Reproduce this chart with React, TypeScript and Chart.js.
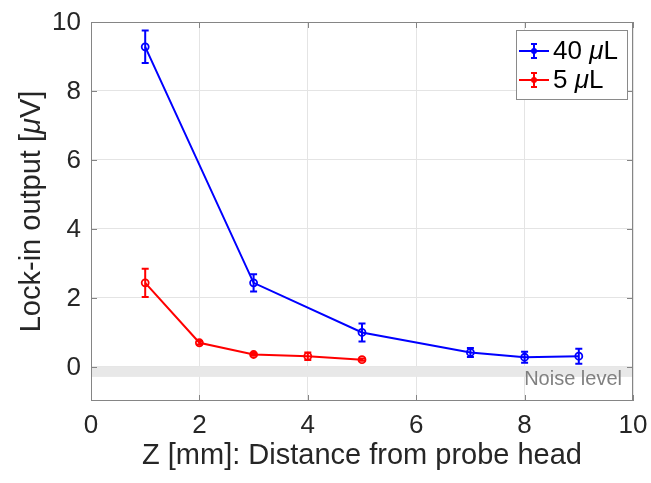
import React, { useEffect, useRef } from "react";
import { Chart, registerables } from "chart.js";
Chart.register(...registerables);

// ---- data ----
const zPositions40 = [1, 3, 5, 7, 8, 9];
const values40 = [9.28, 2.43, 0.99, 0.41, 0.27, 0.3];
const errors40 = [0.47, 0.25, 0.26, 0.13, 0.16, 0.22];
const zPositions5 = [1, 2, 3, 4, 5];
const values5 = [2.43, 0.69, 0.35, 0.3, 0.2];
const errors5 = [0.41, 0.05, 0.04, 0.11, 0.03];
const xTickValues = [0, 2, 4, 6, 8, 10];
const yTickValues = [0, 2, 4, 6, 8, 10];
const noiseBand = [-0.3, 0];
const legendNumbers = ["40 ", "5 "];
const legendUnit = "L";
const xTitle = "Z [mm]: Distance from probe head";
const yTitleParts = ["Lock-in output [", "μ", "V]"];
const noiseLabel = "Noise level";

const FONT = '"Liberation Sans", Arial, Helvetica, sans-serif';
const TEXT = "#262626";
const AXIS = "#858585";
const BLUE = "#0000ff";
const RED = "#ff0000";

type Part = [string, boolean];
function partsWidth(ctx: CanvasRenderingContext2D, parts: Part[], size: number) {
  let w = 0;
  for (const [t, it] of parts) {
    ctx.font = `${it ? "italic " : ""}${size}px ${FONT}`;
    w += ctx.measureText(t).width;
  }
  return w;
}
function drawParts(ctx: CanvasRenderingContext2D, parts: Part[], x: number, y: number, size: number) {
  let cx = x;
  ctx.textAlign = "left";
  ctx.textBaseline = "middle";
  for (const [t, it] of parts) {
    ctx.font = `${it ? "italic " : ""}${size}px ${FONT}`;
    ctx.fillText(t, cx, y);
    cx += ctx.measureText(t).width;
  }
}

function drawErrorGlyph(ctx: CanvasRenderingContext2D, cx: number, top: number, bottom: number, color: string, cap: number) {
  ctx.strokeStyle = color;
  ctx.lineWidth = 2;
  ctx.beginPath();
  ctx.moveTo(cx, top);
  ctx.lineTo(cx, bottom);
  ctx.moveTo(cx - cap, top);
  ctx.lineTo(cx + cap, top);
  ctx.moveTo(cx - cap, bottom);
  ctx.lineTo(cx + cap, bottom);
  ctx.stroke();
}

const matlabPlugin = {
  id: "matlabPlugin",
  beforeDatasetsDraw(chart: any) {
    const { ctx, chartArea: a, scales } = chart;
    const y = scales.y;
    const yt = y.getPixelForValue(noiseBand[1]);
    const yb = y.getPixelForValue(noiseBand[0]);
    ctx.save();
    ctx.fillStyle = "#e8e8e8";
    ctx.fillRect(a.left, yt, a.right - a.left, yb - yt);
    ctx.fillStyle = "#808080";
    ctx.font = `20px ${FONT}`;
    ctx.textAlign = "right";
    ctx.textBaseline = "middle";
    ctx.fillText(noiseLabel, a.right - 11, yb + 3);
    ctx.restore();
  },
  afterDatasetsDraw(chart: any) {
    const { ctx, scales } = chart;
    const x = scales.x;
    const y = scales.y;
    ctx.save();
    chart.data.datasets.forEach((ds: any) => {
      ds.data.forEach((p: any, j: number) => {
        const e = ds.errors[j];
        const px = x.getPixelForValue(p.x);
        drawErrorGlyph(ctx, px, y.getPixelForValue(p.y + e), y.getPixelForValue(p.y - e), ds.borderColor, 3.5);
      });
    });
    ctx.restore();
  },
  afterDraw(chart: any) {
    const { ctx, chartArea: a, scales } = chart;
    const x = scales.x;
    const y = scales.y;
    ctx.save();
    // box
    ctx.strokeStyle = AXIS;
    ctx.lineWidth = 1;
    ctx.strokeRect(Math.round(a.left) + 0.5, Math.round(a.top) + 0.5, Math.round(a.right - a.left) - 1, Math.round(a.bottom - a.top) - 1);
    // inward ticks
    ctx.beginPath();
    const tl = 6;
    for (const v of xTickValues) {
      const px = Math.round(x.getPixelForValue(v)) + 0.5;
      ctx.moveTo(px, a.bottom);
      ctx.lineTo(px, a.bottom - tl);
      ctx.moveTo(px, a.top);
      ctx.lineTo(px, a.top + tl);
    }
    for (const v of yTickValues) {
      const py = Math.round(y.getPixelForValue(v)) + 0.5;
      ctx.moveTo(a.left, py);
      ctx.lineTo(a.left + tl, py);
      ctx.moveTo(a.right, py);
      ctx.lineTo(a.right - tl, py);
    }
    ctx.stroke();

    // tick labels
    ctx.fillStyle = TEXT;
    ctx.font = `26px ${FONT}`;
    ctx.textAlign = "center";
    ctx.textBaseline = "middle";
    for (const v of xTickValues) {
      ctx.fillText(String(v), x.getPixelForValue(v), a.bottom + 25);
    }
    ctx.textAlign = "right";
    for (const v of yTickValues) {
      ctx.fillText(String(v), a.left - 10, y.getPixelForValue(v) + 1);
    }

    // legend
    const lx = 516, ly = 30, lw = 111, lh = 69;
    ctx.fillStyle = "#ffffff";
    ctx.fillRect(lx, ly, lw, lh);
    ctx.strokeStyle = "#8a8a8a";
    ctx.lineWidth = 1;
    ctx.strokeRect(lx + 0.5, ly + 0.5, lw, lh);
    chart.data.datasets.forEach((ds: any, i: number) => {
      const ry = 51 + i * 29;
      const col = ds.borderColor;
      ctx.strokeStyle = col;
      ctx.lineWidth = 2;
      ctx.beginPath();
      ctx.moveTo(519, ry);
      ctx.lineTo(549, ry);
      ctx.stroke();
      drawErrorGlyph(ctx, 534, ry - 7, ry + 7, col, 3);
      ctx.fillStyle = col;
      ctx.beginPath();
      ctx.arc(534, ry, 3, 0, Math.PI * 2);
      ctx.fill();
      ctx.fillStyle = "#000000";
      drawParts(ctx, [[legendNumbers[i], false], ["μ", true], [legendUnit, false]], 553, ry + 1, 26);
    });

    // titles
    ctx.fillStyle = TEXT;
    ctx.font = `29px ${FONT}`;
    ctx.textAlign = "center";
    ctx.textBaseline = "middle";
    ctx.fillText(xTitle, (a.left + a.right) / 2, 456);

    const yParts: Part[] = [[yTitleParts[0], false], [yTitleParts[1], true], [yTitleParts[2], false]];
    ctx.save();
    ctx.translate(32, (a.top + a.bottom) / 2);
    ctx.rotate(-Math.PI / 2);
    const w = partsWidth(ctx, yParts, 29);
    drawParts(ctx, yParts, -w / 2, 0, 29);
    ctx.restore();

    ctx.restore();
  },
};

export default function App() {
  const ref = useRef<HTMLCanvasElement | null>(null);
  useEffect(() => {
    document.body.style.margin = "0";
    const canvas = ref.current!;
    const mk = (xs: number[], ys: number[]) => xs.map((v, i) => ({ x: v, y: ys[i] }));
    const chart = new Chart(canvas, {
      type: "line",
      data: {
        datasets: [
          {
            label: "40 μL",
            data: mk(zPositions40, values40),
            errors: errors40,
            borderColor: BLUE,
            backgroundColor: "rgba(0,0,0,0)",
            borderWidth: 2,
            pointRadius: 3.5,
            pointBorderWidth: 1.8,
            pointBackgroundColor: "rgba(0,0,0,0)",
            pointBorderColor: BLUE,
            tension: 0,
          } as any,
          {
            label: "5 μL",
            data: mk(zPositions5, values5),
            errors: errors5,
            borderColor: RED,
            backgroundColor: "rgba(0,0,0,0)",
            borderWidth: 2,
            pointRadius: 3.5,
            pointBorderWidth: 1.8,
            pointBackgroundColor: "rgba(0,0,0,0)",
            pointBorderColor: RED,
            tension: 0,
          } as any,
        ],
      },
      options: {
        animation: false,
        responsive: true,
        maintainAspectRatio: false,
        layout: { padding: { top: 22, right: 18, left: 0, bottom: 0 } },
        plugins: { legend: { display: false }, tooltip: { enabled: false } },
        scales: {
          x: {
            type: "linear",
            min: 0,
            max: 10,
            afterBuildTicks: (s: any) => {
              s.ticks = xTickValues.map((v) => ({ value: v }));
            },
            afterFit: (s: any) => {
              s.height = 82;
            },
            grid: { color: "#e4e4e4", drawTicks: false, lineWidth: 1 },
            border: { display: false },
            ticks: { display: false },
          },
          y: {
            type: "linear",
            min: -1,
            max: 10,
            afterBuildTicks: (s: any) => {
              s.ticks = yTickValues.map((v) => ({ value: v }));
            },
            afterFit: (s: any) => {
              s.width = 91;
            },
            grid: { color: "#e4e4e4", drawTicks: false, lineWidth: 1 },
            border: { display: false },
            ticks: { display: false },
          },
        },
      },
      plugins: [matlabPlugin],
    } as any);
    return () => chart.destroy();
  }, []);
  return (
    <div style={{ position: "fixed", left: 0, top: 0, width: 651, height: 483, background: "#fff" }}>
      <canvas ref={ref} />
    </div>
  );
}
